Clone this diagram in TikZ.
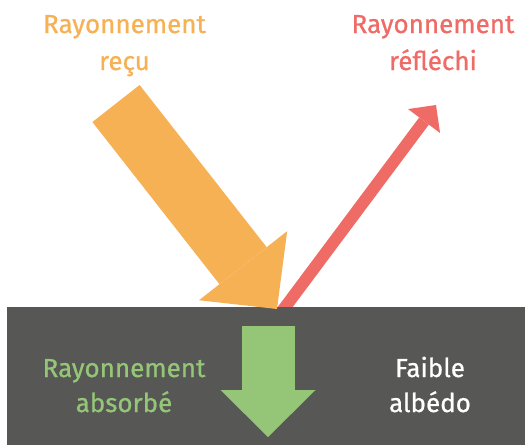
\documentclass[tikz,border=0pt]{standalone}
\usepackage{fontspec}
\setmainfont{Fira Sans}[FakeBold=0.8]
\usetikzlibrary{arrows.meta, positioning}

\definecolor{recu}{HTML}{F7B155}
\definecolor{reflechi}{HTML}{EE6B66}
\definecolor{absorbe}{HTML}{95C678}
\definecolor{sol}{HTML}{575755}

\begin{document}
\begin{tikzpicture}[x=1pt, y=-1pt,
    label/.style={anchor=base, align=center, inner sep=0pt, font=\fontsize{26}{37}\selectfont},
    lowlabel/.style={label, font=\fontsize{26}{35}\selectfont},
    ray/.style={line width=#1, line cap=butt}]
    \useasboundingbox (0,0) rectangle (525,445);

    % Points of the rays
    \coordinate (recu start) at (116,103.5);
    \coordinate (impact) at (277,309);
    \coordinate (reflechi start) at (277,318);
    \coordinate (reflechi end) at (436,105);
    \coordinate (absorbe start) at (268,326);
    \coordinate (absorbe end) at (268,437);

    % Reflected ray (behind the ground)
    \draw[ray=12pt, reflechi, -{Triangle[width=40pt, length=20pt, line width=0pt]}] (reflechi start) -- (reflechi end);

    % Ground
    \fill[sol] (7,307) rectangle (525,445);

    % Incoming and absorbed rays
    \draw[ray=60pt, recu, -{Triangle[width=112pt, length=55pt, line width=0pt]}] (recu start) -- (impact);
    \draw[ray=53pt, absorbe, -{Triangle[width=95pt, length=47pt, line width=0pt]}] (absorbe start) -- (absorbe end);

    % Labels (base = last line)
    \node[label, text=recu] (recu label) at (124.5,70) {Rayonnement\\reçu};
    \node[label, text=reflechi] (reflechi label) at (433,70) {Rayonnement\\réfléchi};
    \node[lowlabel, text=absorbe] (absorbe label) at (124,412) {Rayonnement\\absorbé};
    \node[lowlabel, text=white] (albedo label) at (430,412) {Faible\\albédo};
\end{tikzpicture}
\end{document}
